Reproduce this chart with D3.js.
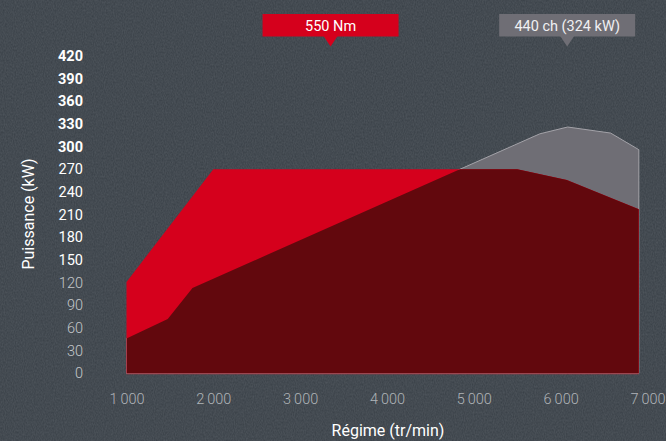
<!DOCTYPE html>
<html>
<head>
<meta charset="utf-8">
<script src="https://cdn.jsdelivr.net/npm/d3@7"></script>
<style>
  html, body { margin: 0; padding: 0; background: #3a4047; }
  svg { display: block; font-family: Roboto, "Noto Sans", sans-serif; }
</style>
</head>
<body>
<svg id="chart" width="666" height="441"></svg>
<script>
// ---- data ----
const rpmTorque = [1000, 2000, 5500, 6070, 6900];
const torqueKW  = [121, 270, 270, 256, 217];
const rpmPower  = [1000, 1475, 1760, 5760, 6080, 6575, 6900];
const powerKW   = [46, 72, 113, 317, 326, 318, 296];
const yTicks    = [0, 30, 60, 90, 120, 150, 180, 210, 240, 270, 300, 330, 360, 390, 420];
const xTicks    = [1000, 2000, 3000, 4000, 5000, 6000, 7000];
const xTickLabels = ["1\u2009000", "2\u2009000", "3\u2009000", "4\u2009000", "5\u2009000", "6\u2009000", "7\u2009000"];
const annotTexts = ["550 Nm", "440 ch (324 kW)"];
const annotRpm   = [3350, 6075];
const yTitle = "Puissance (kW)";
const xTitle = "Régime (tr/min)";

const svg = d3.select("#chart");
const W = 666, H = 441;

// background with subtle slate texture
const defs = svg.append("defs");
const f = defs.append("filter").attr("id", "slate").attr("x", 0).attr("y", 0).attr("width", "100%").attr("height", "100%");
f.append("feTurbulence").attr("type", "fractalNoise").attr("baseFrequency", "0.9 0.5").attr("numOctaves", 2).attr("seed", 3).attr("result", "n");
f.append("feColorMatrix").attr("in", "n").attr("type", "matrix")
  .attr("values", "0 0 0 0 0.75  0 0 0 0 0.78  0 0 0 0 0.82  0 0 0 0.14 0");
svg.append("rect").attr("width", W).attr("height", H).attr("fill", "#383f46");
svg.append("rect").attr("width", W).attr("height", H).attr("filter", "url(#slate)");

// scales
const x = d3.scaleLinear().domain([1000, 7000]).range([126.5, 647.5]);
const y = d3.scaleLinear().domain([0, 420]).range([373.3, 56]);

const torque = rpmTorque.map((r, i) => ({ rpm: r, v: torqueKW[i] }));
const power  = rpmPower.map((r, i) => ({ rpm: r, v: powerKW[i] }));

const area = d3.area().x(d => x(d.rpm)).y0(y(0)).y1(d => y(d.v));

defs.append("clipPath").attr("id", "powerClip")
  .append("path").attr("d", area(power));

// power (grey) area with light edge
svg.append("path").attr("d", area(power))
  .attr("fill", "#6f6e75").attr("stroke", "#a3a2a8").attr("stroke-width", 1);
// torque (bright red)
svg.append("path").attr("d", area(torque)).attr("fill", "#d5001c");
// overlap (dark red)
svg.append("path").attr("d", area(torque)).attr("fill", "#62080d")
  .attr("clip-path", "url(#powerClip)");
// baseline
svg.append("line")
  .attr("x1", x(1000)).attr("x2", x(rpmPower[rpmPower.length - 1]))
  .attr("y1", y(0) + 0.5).attr("y2", y(0) + 0.5)
  .attr("stroke", "#9a3a44").attr("stroke-width", 1);

// y axis
const yAxis = svg.append("g").attr("transform", "translate(83,0)")
  .call(d3.axisLeft(y).tickValues(yTicks).tickSize(0).tickPadding(0));
yAxis.select(".domain").remove();
yAxis.selectAll("text")
  .attr("font-family", "Roboto, sans-serif")
  .attr("font-size", 14.5)
  .attr("font-weight", d => d >= 300 ? 700 : (d >= 150 ? 400 : 300))
  .attr("fill", d => d >= 150 ? "#ffffff" : "#c4c7ca");

// x axis
const xAxis = svg.append("g").attr("transform", "translate(0,394)")
  .call(d3.axisBottom(x).tickValues(xTicks).tickSize(0).tickPadding(0)
    .tickFormat((d, i) => xTickLabels[i]));
xAxis.select(".domain").remove();
xAxis.selectAll("text")
  .attr("font-family", "Roboto, sans-serif")
  .attr("font-size", 14.5)
  .attr("font-weight", 300)
  .attr("fill", "#b0b4b8");

// axis titles
svg.append("text")
  .attr("transform", "translate(34,214) rotate(-90)")
  .attr("text-anchor", "middle")
  .attr("font-size", 16).attr("font-weight", 400).attr("fill", "#ffffff")
  .text(yTitle);
svg.append("text")
  .attr("x", 388).attr("y", 436)
  .attr("text-anchor", "middle")
  .attr("font-size", 16).attr("font-weight", 400).attr("fill", "#ffffff")
  .text(xTitle);

// annotations
const boxFill = ["#d5001c", "#6f6e75"];
const txtFill = ["#ffffff", "#f0f0f2"];
annotTexts.forEach((t, i) => {
  const cx = x(annotRpm[i]);
  const g = svg.append("g");
  g.append("rect").attr("x", cx - 68).attr("y", 14).attr("width", 136).attr("height", 22.5)
    .attr("fill", boxFill[i]);
  g.append("path")
    .attr("d", `M${cx - 7},36 L${cx + 7},36 L${cx},46.5 Z`)
    .attr("fill", boxFill[i]);
  g.append("text").attr("x", cx).attr("y", 30.5)
    .attr("text-anchor", "middle").attr("font-size", 14.5).attr("font-weight", 400)
    .attr("fill", txtFill[i]).text(t);
});
</script>
</body>
</html>
